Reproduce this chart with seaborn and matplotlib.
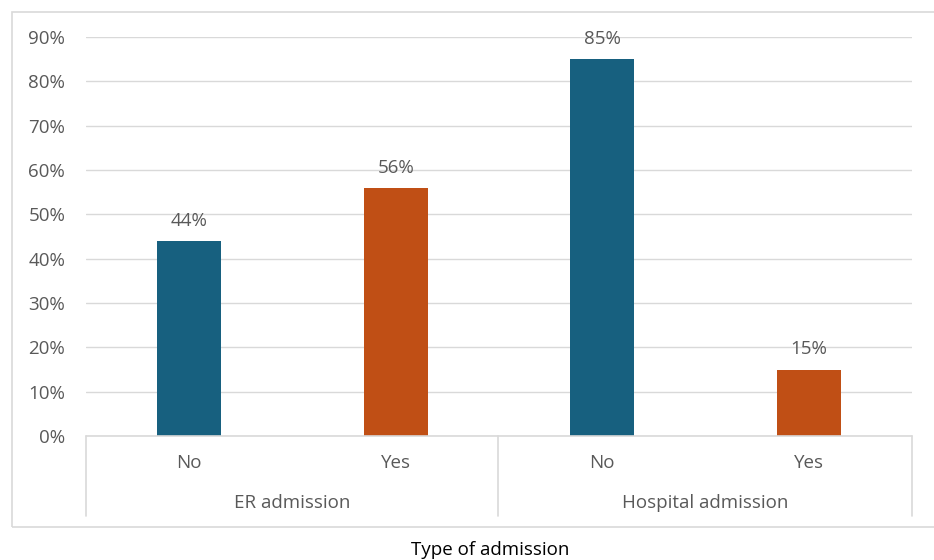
import matplotlib
matplotlib.use("Agg")
import matplotlib.pyplot as plt
import seaborn as sns
import pandas as pd
from matplotlib.lines import Line2D
from matplotlib.patches import Rectangle

groups = ["ER admission", "ER admission", "Hospital admission", "Hospital admission"]
answers = ["No", "Yes", "No", "Yes"]
values = [0.44, 0.56, 0.85, 0.15]
value_labels = ["44%", "56%", "85%", "15%"]
yticks = [0.0, 0.1, 0.2, 0.3, 0.4, 0.5, 0.6, 0.7, 0.8, 0.9]
ytick_labels = ["0%", "10%", "20%", "30%", "40%", "50%", "60%", "70%", "80%", "90%"]
group_names = ["ER admission", "Hospital admission"]
axis_title = "Type of admission"
colors = {"No": "#17607F", "Yes": "#C04F15"}

sns.set_theme(style="white")
plt.rcParams["font.family"] = ["Open Sans", "DejaVu Sans"]
TXT = "#595959"
FS = 13.5

df = pd.DataFrame({
    "pos": [f"{g}|{a}" for g, a in zip(groups, answers)],
    "answer": answers,
    "value": values,
})

W, H = 934, 560
fig = plt.figure(figsize=(W / 100, H / 100), dpi=100)
ax = fig.add_axes([86 / W, 1 - 436 / H, (912 - 86) / W, (436 - 37) / H])

sns.barplot(data=df, x="pos", y="value", hue="answer", palette=colors,
            dodge=False, width=0.31, ax=ax, legend=False, saturation=1,
            linewidth=0)

ax.set_ylim(0, 0.9)
ax.set_xlim(-0.5, 3.5)
ax.set_yticks(yticks)
ax.set_yticklabels(ytick_labels, color=TXT, fontsize=FS)
ax.tick_params(axis="y", length=0, pad=15)
ax.set_xticks([])
ax.set_xlabel("")
ax.set_ylabel("")
for s in ax.spines.values():
    s.set_visible(False)
ax.grid(axis="y", color="#D9D9D9", linewidth=1)
ax.set_axisbelow(True)

for i, (v, lab) in enumerate(zip(values, value_labels)):
    ax.annotate(lab, (i, v), xytext=(0, 8), textcoords="offset points",
                ha="center", va="bottom", color=TXT, fontsize=FS)

# multi-level category axis
def fx(px):
    return px / W

def fy(py):
    return 1 - py / H

lc = "#D9D9D9"
fig.add_artist(Line2D([fx(86), fx(912)], [fy(436), fy(436)], color=lc, lw=1.2))
for xp in [86, 498, 912]:
    fig.add_artist(Line2D([fx(xp), fx(xp)], [fy(436), fy(516)], color=lc, lw=1.2))

for i, a in enumerate(answers):
    xd = ax.transData.transform((i, 0))[0]
    fig.text(xd / W, fy(463), a, ha="center", va="center", color=TXT, fontsize=FS)
fig.text(fx(292), fy(503), group_names[0], ha="center", va="center", color=TXT, fontsize=FS)
fig.text(fx(705), fy(503), group_names[1], ha="center", va="center", color=TXT, fontsize=FS)

# chart area border
fig.add_artist(Rectangle((fx(12), fy(527)), fx(940) - fx(12), fy(12) - fy(527),
                         fill=False, edgecolor="#D9D9D9", lw=1.2))

fig.text(fx(490), fy(550), axis_title, ha="center", va="center", color="black", fontsize=FS)

fig.savefig("out.png", dpi=100)
